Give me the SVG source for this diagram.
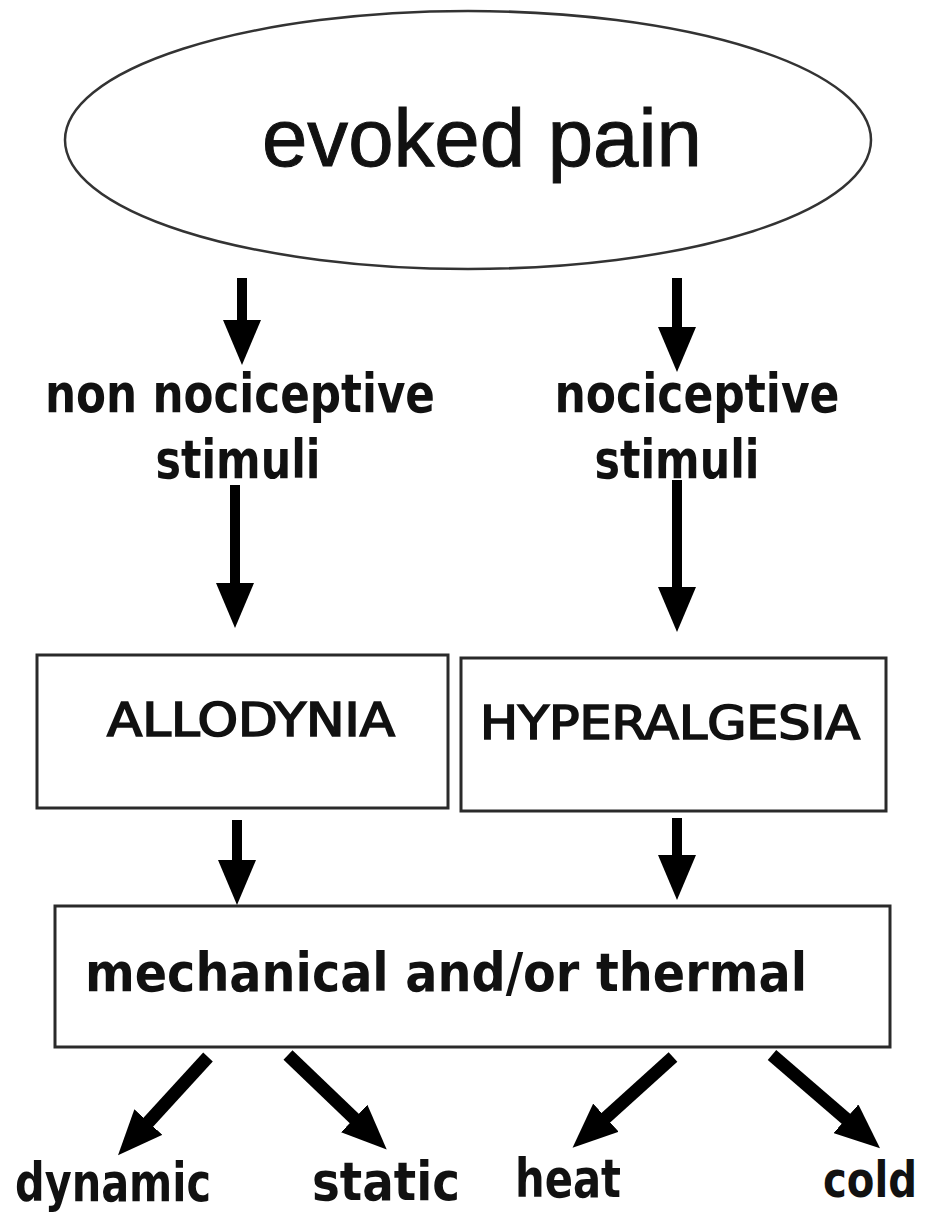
<svg xmlns="http://www.w3.org/2000/svg" width="933" height="1223" viewBox="0 0 933 1223">
<style>
.bg{fill:#fff}
.shape{fill:#fff;stroke:#2a2a2a;stroke-width:3}
.ell{fill:#fff;stroke:#333;stroke-width:2.5}
.t{font-family:"DejaVu Sans Condensed","DejaVu Sans",sans-serif;font-weight:bold;fill:#111;text-anchor:middle}
.t2{font-family:"Liberation Sans",Arial,sans-serif;fill:#111;stroke:#111;stroke-width:1;text-anchor:middle}
.cap{font-family:"DejaVu Sans Condensed","DejaVu Sans",sans-serif;fill:#111;stroke:#111;stroke-width:1.6;text-anchor:middle}
.arr{stroke:#000;stroke-width:10;fill:none;marker-end:url(#ah)}
.arrd{stroke:#000;stroke-width:13;fill:none;marker-end:url(#ah)}
</style>
<defs>
<marker id="ah" viewBox="0 0 45 38" markerWidth="45" markerHeight="38" refX="8" refY="19" orient="auto" markerUnits="userSpaceOnUse">
<path d="M0,0 L45,19 L0,38 z" fill="#000"/>
</marker>
</defs>
<rect class="bg" x="0" y="0" width="933" height="1223"/>
<g id="evoked-pain">
<ellipse class="ell" cx="468" cy="140" rx="403" ry="129"/>
<text class="t2" x="482" y="166" font-size="82" textLength="440" lengthAdjust="spacingAndGlyphs">evoked pain</text>
</g>
<g id="non-nociceptive">
<text class="t" x="240" y="412" font-size="53" textLength="390" lengthAdjust="spacingAndGlyphs">non nociceptive</text>
<text class="t" x="238" y="478" font-size="53" textLength="165" lengthAdjust="spacingAndGlyphs">stimuli</text>
</g>
<g id="nociceptive">
<text class="t" x="697" y="412" font-size="53" textLength="285" lengthAdjust="spacingAndGlyphs">nociceptive</text>
<text class="t" x="677" y="478" font-size="53" textLength="165" lengthAdjust="spacingAndGlyphs">stimuli</text>
</g>
<g id="allodynia">
<rect class="shape" x="37" y="655" width="411" height="153"/>
<text class="cap" x="251" y="736" font-size="46" textLength="288" lengthAdjust="spacingAndGlyphs">ALLODYNIA</text>
</g>
<g id="hyperalgesia">
<rect class="shape" x="461" y="658" width="425" height="153"/>
<text class="cap" x="670" y="739" font-size="46" textLength="380" lengthAdjust="spacingAndGlyphs">HYPERALGESIA</text>
</g>
<g id="mechanical-thermal">
<rect class="shape" x="55" y="906" width="835" height="141"/>
<text class="t" x="446" y="991" font-size="53" textLength="722" lengthAdjust="spacingAndGlyphs">mechanical  and/or  thermal</text>
</g>
<g id="dynamic"><text class="t" x="113" y="1201" font-size="53" textLength="196" lengthAdjust="spacingAndGlyphs">dynamic</text></g>
<g id="static"><text class="t" x="386" y="1200" font-size="53" textLength="148" lengthAdjust="spacingAndGlyphs">static</text></g>
<g id="heat"><text class="t" x="568" y="1197" font-size="53" textLength="106" lengthAdjust="spacingAndGlyphs">heat</text></g>
<g id="cold"><text class="t" x="870" y="1197" font-size="49" textLength="94" lengthAdjust="spacingAndGlyphs">cold</text></g>
<g id="connectors">
<line class="arr" x1="242" y1="278" x2="242" y2="328"/>
<line class="arr" x1="677" y1="278" x2="677" y2="335"/>
<line class="arr" x1="235" y1="485" x2="235" y2="591"/>
<line class="arr" x1="677" y1="480" x2="677" y2="595"/>
<line class="arr" x1="237" y1="820" x2="237" y2="868"/>
<line class="arr" x1="677" y1="818" x2="677" y2="863"/>
<line class="arrd" x1="208" y1="1057" x2="143" y2="1128"/>
<line class="arrd" x1="288" y1="1055" x2="360" y2="1124"/>
<line class="arrd" x1="673" y1="1057" x2="600" y2="1123"/>
<line class="arrd" x1="772" y1="1055" x2="852" y2="1124"/>
</g>
</svg>
